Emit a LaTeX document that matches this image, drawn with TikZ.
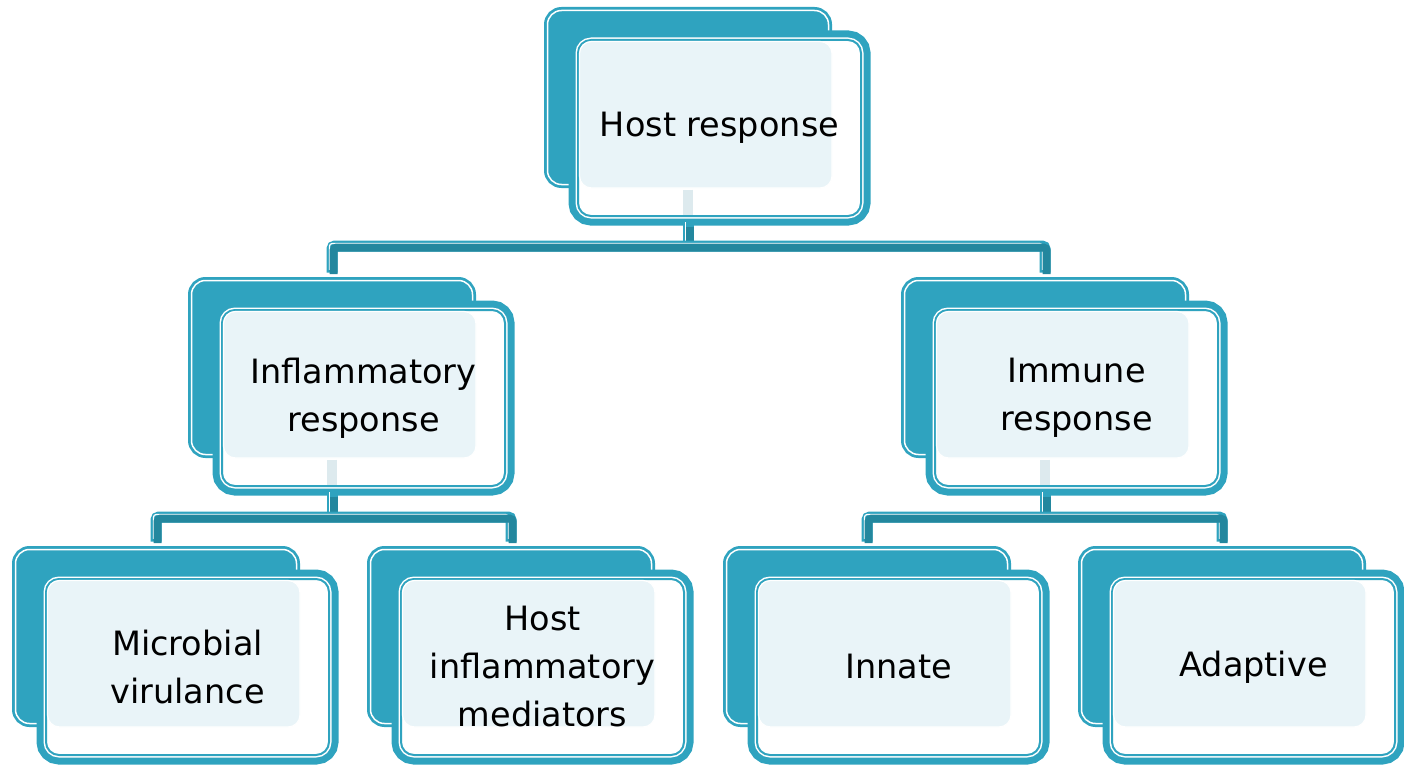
\documentclass[tikz,border=0pt]{standalone}
\usepackage{fontspec}
\setmainfont{DejaVu Sans}
\usetikzlibrary{calc}
\definecolor{tealA}{HTML}{2FA3BF}
\definecolor{tealD}{HTML}{23879E}
\definecolor{paleA}{HTML}{E9F4F8}
\definecolor{stubC}{HTML}{DDEAEE}
\tikzset{
  backbox/.style={rectangle, rounded corners=14, fill=tealA, draw=white, line width=1.5,
    minimum width=281, minimum height=174, outer sep=0, inner sep=0,
    preaction={draw=tealA, line width=7}},
  frontbox/.style={rectangle, rounded corners=13, fill=white, draw=tealA, line width=2,
    minimum width=283, minimum height=176, outer sep=0, inner sep=0,
    preaction={draw=tealA, line width=19},
    preaction={draw=white, line width=5}},
  palebox/.style={fill=paleA, draw=white, line width=1.2, rounded corners=12},
  stubline/.style={draw=stubC, line width=10},
  txt/.style={align=center, font=\fontsize{33.5}{48}\selectfont, text=black, inner sep=0},
  connA/.style={draw=tealA, line width=11, rounded corners=3},
  connW/.style={draw=white, line width=1.2, rounded corners=3, transform canvas={shift={(-2.6,-2.6)}}},
  connD/.style={draw=tealD, line width=8, rounded corners=3, transform canvas={shift={(1.6,1.6)}}},
}
\newcommand{\mypair}[4]{%
  \node[backbox] (#1b) at (#2+144, #3+90.5) {};
  \node[frontbox] (#1f) at (#2+25+150.5, #3+24+97) {};
  \path[palebox] ($(#1f.north west)+(1.5,1.5)$) rectangle ($(#1b.south east)+(3.5,3.5)$);
  \node[txt] (#1t) at (#1f.center) {#4};
}
\newcommand{\mystub}[1]{\draw[stubline] ($(#1b.south)+(0,5)$) -- ($(#1b.south |- #1f.south)+(0,-1)$);}
\newcommand{\myconn}[1]{\draw[connA] #1; \draw[connW] #1; \draw[connD] #1;}
\begin{document}
\begin{tikzpicture}[x=1pt, y=-1pt]
\useasboundingbox (0,0) rectangle (1404,765);
\mypair{top}{544}{7}{Host response}
\mypair{inf}{188}{277}{Inflammatory\\response}
\mypair{imm}{901}{277}{Immune\\response}
\mypair{mic}{12}{546}{Microbial\\virulance}
\mypair{med}{367}{546}{Host\\inflammatory\\mediators}
\mypair{inn}{723}{546}{Innate}
\mypair{ada}{1078}{546}{Adaptive}
\mystub{top}
\mystub{inf}
\mystub{imm}
\coordinate (h1) at (0,246);
\coordinate (h2) at (0,517);
% level 1
\myconn{($(topb.south |- topf.south)+(0,9)$) -- (topb.south |- h1)}
\myconn{($(infb.north)+(0,-8)$) -- (infb.north |- h1) -- (immb.north |- h1) -- ($(immb.north)+(0,-8)$)}
% level 2
\myconn{($(infb.south |- inff.south)+(0,9)$) -- (infb.south |- h2)}
\myconn{($(micb.north)+(0,-8)$) -- (micb.north |- h2) -- (medb.north |- h2) -- ($(medb.north)+(0,-8)$)}
\myconn{($(immb.south |- immf.south)+(0,9)$) -- (immb.south |- h2)}
\myconn{($(innb.north)+(0,-8)$) -- (innb.north |- h2) -- (adab.north |- h2) -- ($(adab.north)+(0,-8)$)}
\end{tikzpicture}
\end{document}
